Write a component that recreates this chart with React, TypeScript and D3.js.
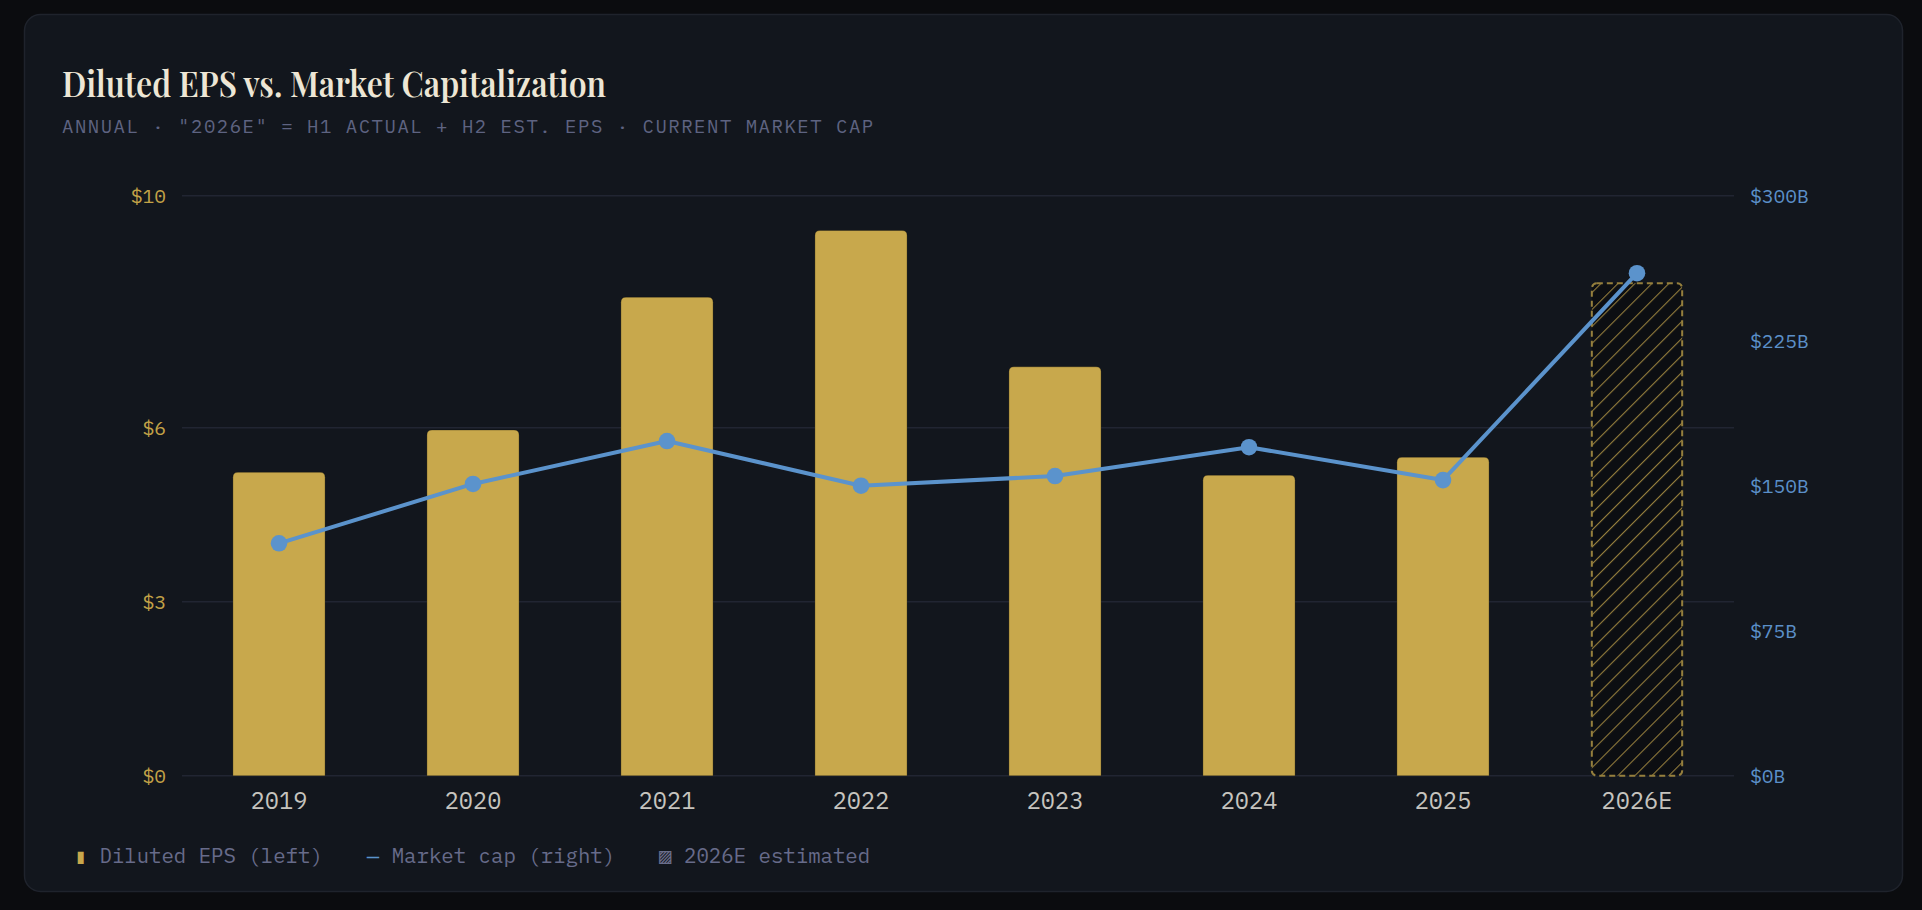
import React, { useEffect, useRef } from 'react';
import * as d3 from 'd3';

// ---- data ----
const years = ['2019', '2020', '2021', '2022', '2023', '2024', '2025', '2026E'];
const eps = [5.23, 5.96, 8.25, 9.4, 7.05, 5.18, 5.49, 8.49];
const marketCap = [120.2, 150.9, 173.1, 150.0, 155.0, 169.9, 152.9, 259.9];
const estimatedYears = ['2026E'];
const epsTicks = [0, 3, 6, 10];
const capTicks = [0, 75, 150, 225, 300];
const legendLabels = ['Diluted EPS (left)', 'Market cap (right)', '2026E estimated'];
const legendIcons = ['▮', '—', '▨'];

const W = 1922;
const H = 910;
const GOLD = '#c8a84c';
const BLUE = '#5b93cc';
const MONO = "'IBM Plex Mono', 'Liberation Mono', 'DejaVu Sans Mono', monospace";

const App = () => {
  const svgRef = useRef<SVGSVGElement>(null);

  useEffect(() => {
    if (!svgRef.current) return;
    const svg = d3.select(svgRef.current);
    svg.selectAll('*').remove();

    const plot = { left: 182, right: 1734, top: 195.7, bottom: 775.7 };

    const x = d3.scaleBand<string>()
      .domain(years)
      .range([plot.left, plot.right])
      .paddingInner(0.525)
      .paddingOuter(0.2625);

    const yEps = d3.scaleLinear().domain([0, 10]).range([plot.bottom, plot.top]);
    const yCap = d3.scaleLinear().domain([0, 300]).range([plot.bottom, plot.top]);

    // hatch pattern for estimate bar
    const defs = svg.append('defs');
    const pat = defs.append('pattern')
      .attr('id', 'hatch')
      .attr('patternUnits', 'userSpaceOnUse')
      .attr('width', 12)
      .attr('height', 12)
      .attr('patternTransform', 'rotate(45)');
    pat.append('rect').attr('width', 12).attr('height', 12).attr('fill', '#0c0e12');
    pat.append('line')
      .attr('x1', 0).attr('y1', 0).attr('x2', 0).attr('y2', 12)
      .attr('stroke', GOLD).attr('stroke-opacity', 0.72).attr('stroke-width', 2.2);

    // page + card
    svg.append('rect').attr('width', W).attr('height', H).attr('fill', '#0b0c0f');
    svg.append('rect')
      .attr('x', 24.5).attr('y', 14.5)
      .attr('width', 1878).attr('height', 877)
      .attr('rx', 16)
      .attr('fill', '#12161d')
      .attr('stroke', '#1f232c')
      .attr('stroke-width', 1.5);

    // title + subtitle
    svg.append('text')
      .attr('x', 62).attr('y', 96.7)
      .attr('font-family', "'Playfair Display', 'Liberation Serif', serif")
      .attr('font-weight', 600)
      .attr('font-size', 35)
      .attr('fill', '#ede6d5')
      .attr('textLength', 544)
      .attr('lengthAdjust', 'spacingAndGlyphs')
      .text('Diluted EPS vs. Market Capitalization');

    svg.append('text')
      .attr('x', 62).attr('y', 133.3)
      .attr('font-family', MONO)
      .attr('font-size', 19)
      .attr('letter-spacing', 1.5)
      .attr('fill', '#5e6381')
      .text('ANNUAL · "2026E" = H1 ACTUAL + H2 EST. EPS · CURRENT MARKET CAP');

    // gridlines (left axis ticks)
    svg.append('g')
      .selectAll('line')
      .data(epsTicks)
      .join('line')
      .attr('x1', plot.left).attr('x2', plot.right)
      .attr('y1', d => yEps(d)).attr('y2', d => yEps(d))
      .attr('stroke', '#212532')
      .attr('stroke-width', 1.5);

    // left axis labels
    svg.append('g')
      .selectAll('text')
      .data(epsTicks)
      .join('text')
      .attr('x', 166).attr('y', d => yEps(d))
      .attr('dy', '0.35em')
      .attr('text-anchor', 'end')
      .attr('font-family', MONO)
      .attr('font-size', 19.6)
      .attr('fill', '#c2a247')
      .text(d => `$${d}`);

    // right axis labels
    svg.append('g')
      .selectAll('text')
      .data(capTicks)
      .join('text')
      .attr('x', 1750).attr('y', d => yCap(d))
      .attr('dy', '0.35em')
      .attr('font-family', MONO)
      .attr('font-size', 19.6)
      .attr('fill', '#5b8fc8')
      .text(d => `$${d}B`);

    // bars
    const rows = years.map((yr, i) => ({ yr, eps: eps[i], cap: marketCap[i], est: estimatedYears.includes(yr) }));
    const r = 5;
    const topRounded = (bx: number, by: number, bw: number, bh: number) =>
      `M${bx},${by + bh}V${by + r}Q${bx},${by} ${bx + r},${by}H${bx + bw - r}Q${bx + bw},${by} ${bx + bw},${by + r}V${by + bh}Z`;

    svg.append('g')
      .selectAll('path')
      .data(rows.filter(d => !d.est))
      .join('path')
      .attr('d', d => topRounded(x(d.yr)!, yEps(d.eps), x.bandwidth(), plot.bottom - yEps(d.eps)))
      .attr('fill', GOLD)
      .attr('stroke', 'rgba(0,0,0,0.25)')
      .attr('stroke-width', 1);

    svg.append('g')
      .selectAll('rect')
      .data(rows.filter(d => d.est))
      .join('rect')
      .attr('x', d => x(d.yr)! + 0.9)
      .attr('y', d => yEps(d.eps))
      .attr('width', x.bandwidth() - 1.8)
      .attr('height', d => plot.bottom - yEps(d.eps))
      .attr('rx', 5)
      .attr('fill', 'url(#hatch)')
      .attr('stroke', '#957f3d')
      .attr('stroke-width', 2)
      .attr('stroke-dasharray', '6 4');

    // market cap line
    const line = d3.line<typeof rows[number]>()
      .x(d => x(d.yr)! + x.bandwidth() / 2)
      .y(d => yCap(d.cap));

    svg.append('path')
      .datum(rows)
      .attr('d', line)
      .attr('fill', 'none')
      .attr('stroke', BLUE)
      .attr('stroke-width', 4)
      .attr('stroke-linejoin', 'round');

    svg.append('g')
      .selectAll('circle')
      .data(rows)
      .join('circle')
      .attr('cx', d => x(d.yr)! + x.bandwidth() / 2)
      .attr('cy', d => yCap(d.cap))
      .attr('r', 8.3)
      .attr('fill', BLUE);

    // x labels
    svg.append('g')
      .selectAll('text')
      .data(years)
      .join('text')
      .attr('x', d => x(d)! + x.bandwidth() / 2)
      .attr('y', 809.3)
      .attr('text-anchor', 'middle')
      .attr('font-family', MONO)
      .attr('font-size', 23.6)
      .attr('fill', '#c6c4bf')
      .text(d => d);

    // legend
    const legendX = [74.6, 366.9, 659.2];
    const iconColors = [GOLD, BLUE, '#6a6e8c'];
    const lg = svg.append('g').attr('font-family', MONO).attr('font-size', 20.7);
    legendLabels.forEach((label, i) => {
      lg.append('text')
        .attr('x', legendX[i] + 6.2)
        .attr('y', 863.3)
        .attr('text-anchor', 'middle')
        .attr('fill', iconColors[i])
        .attr('font-family', "'DejaVu Sans Mono', monospace")
        .attr('font-size', i === 2 ? 21 : 20.7)
        .text(legendIcons[i]);
      lg.append('text')
        .attr('x', legendX[i] + 24.8)
        .attr('y', 863.3)
        .attr('fill', '#676b8a')
        .text(label);
    });
  }, []);

  return (
    <svg
      ref={svgRef}
      width={W}
      height={H}
      style={{ position: 'fixed', left: 0, top: 0, display: 'block' }}
    />
  );
};

export default App;
